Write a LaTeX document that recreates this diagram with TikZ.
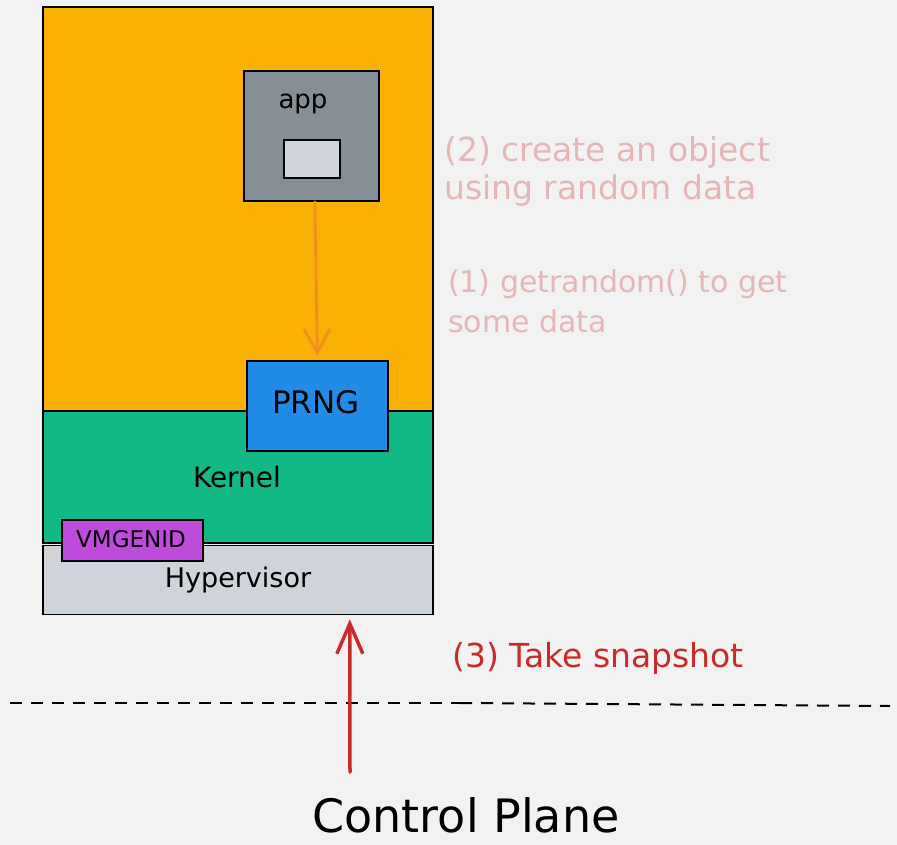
\documentclass[tikz,border=0pt]{standalone}
\usepackage{fontspec}
\setmainfont{DejaVu Sans}
\usetikzlibrary{arrows.meta}

\definecolor{bgc}{HTML}{F1F2F1}
\definecolor{userc}{HTML}{FAB005}
\definecolor{kernc}{HTML}{12B886}
\definecolor{hypc}{HTML}{CED4DA}
\definecolor{appc}{HTML}{868E96}
\definecolor{prngc}{HTML}{228BE6}
\definecolor{vmgc}{HTML}{BE4BDB}
\definecolor{notec}{HTML}{E6B6B6}
\definecolor{snapc}{HTML}{C92A2A}
\definecolor{flowc}{HTML}{F08C1E}

\tikzset{
  box/.style={draw=black, line width=1.8pt, anchor=north west, inner sep=0pt},
  lbl/.style={inner sep=0pt, anchor=base, text=black},
  note/.style={inner sep=0pt, anchor=base west, align=left},
}

\begin{document}
\begin{tikzpicture}[x=1pt, y=-1pt]
  % canvas
  \fill[bgc] (0,0) rectangle (897,845);
  \useasboundingbox (0,0) rectangle (897,845);

  % layers of the guest
  \node[box, fill=userc, minimum width=390pt, minimum height=404pt] (user) at (42,6) {};
  \node[box, fill=kernc, minimum width=390pt, minimum height=132pt] (kernel) at (42,410) {};
  \node[box, fill=hypc, minimum width=390pt, minimum height=69pt] (hyp) at (42,544.5) {};

  % components
  \node[box, fill=appc, minimum width=135pt, minimum height=130pt] (app) at (243,70) {};
  \node[box, fill=hypc, minimum width=56pt, minimum height=38pt] (obj) at (283,139) {};
  \node[box, fill=prngc, minimum width=141pt, minimum height=90pt] (prng) at (246,360) {};
  \node[box, fill=vmgc, minimum width=141pt, minimum height=41pt] (vmg) at (61,519) {};

  % labels
  \node[lbl, font=\fontsize{26}{30}\selectfont] (applbl) at (303,109) {app};
  \node[lbl, font=\fontsize{31}{36}\selectfont] (prnglbl) at (316,413) {PRNG};
  \node[lbl, font=\fontsize{28}{32}\selectfont] (kernlbl) at (237,487) {Kernel};
  \node[lbl, font=\fontsize{23}{26}\selectfont] (vmglbl) at (131,547) {VMGENID};
  \node[lbl, font=\fontsize{27}{32}\selectfont] (hyplbl) at (238,587) {Hypervisor};

  % notes (base anchor sits on the last line)
  \node[note, text=notec, font=\fontsize{33}{38}\selectfont] (n2) at (444,200)
    {(2) create an object\\using random data};
  \node[note, text=notec, font=\fontsize{30}{40}\selectfont] (n1) at (448,332)
    {(1) getrandom() to get\\some data};
  \node[note, text=snapc, font=\fontsize{33}{38}\selectfont] (n3) at (452,667)
    {(3) Take snapshot};
  \node[lbl, font=\fontsize{46}{50}\selectfont] (cp) at (466,832) {Control Plane};

  % getrandom() call
  \draw[flowc, opacity=0.85, line width=3pt, line cap=round,
        -{Straight Barb[length=24pt, width=26pt, line width=3pt]}]
    ([xshift=3.5pt]app.south) -- ([xshift=0pt, yshift=4pt]prng.north);

  % boundary between guest and control plane
  \coordinate (dl) at (10,703);
  \coordinate (dm) at (460,703);
  \coordinate (dr) at (890,706);
  \draw[black, line width=2pt, dash pattern=on 12pt off 9pt] (dl) -- (dm);
  \draw[black, line width=2pt, dash pattern=on 12pt off 9pt] (dm) -- (dr);

  % snapshot request
  \coordinate (cpsrc) at (350,772);
  \draw[snapc, line width=3.5pt, line cap=round,
        -{Straight Barb[length=30pt, width=26pt, line width=3.5pt]}]
    (cpsrc) -- ([xshift=-84pt, yshift=-4pt]hyp.south east);
\end{tikzpicture}
\end{document}
